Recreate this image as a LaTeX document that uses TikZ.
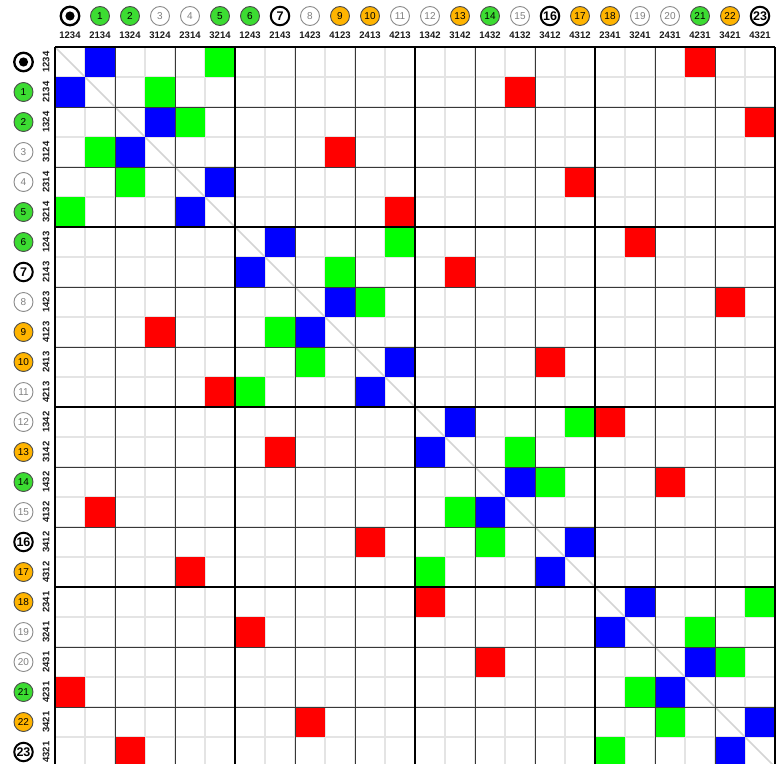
\documentclass[tikz,border=0pt]{standalone}
\usepackage{fontspec}
\setmainfont{Liberation Sans}
\definecolor{cblue}{RGB}{0,0,255}
\definecolor{cgreen}{RGB}{0,255,0}
\definecolor{cred}{RGB}{255,0,0}
\definecolor{trgreen}{RGB}{60,220,50}
\definecolor{orng}{RGB}{255,180,0}
\definecolor{lightgrid}{RGB}{228,228,228}
\definecolor{diagc}{RGB}{212,212,212}
\tikzset{
  circ/.style={circle, minimum size=19pt, inner sep=0pt, font=\fontsize{10}{10}\selectfont},
  ctr/.style={circ, draw=black!70, line width=0.9pt, fill=trgreen, text=black},
  cct/.style={circ, draw=black!45, line width=0.9pt, fill=white, text=black!50},
  ccf/.style={circ, draw=black!70, line width=0.9pt, fill=orng, text=black},
  cdt/.style={circ, draw=black, line width=2pt, fill=white, text=black, minimum size=18.5pt, font=\fontsize{12.5}{12.5}\selectfont\bfseries},
  cid/.style={circ, draw=black, line width=2.3pt, fill=white, minimum size=18.5pt},
  plab/.style={font=\fontsize{9.5}{9.5}\selectfont\bfseries, inner sep=0pt, text=black!90},
  lightline/.style={draw=lightgrid, line width=1.3pt},
  darkline/.style={draw=black!78, line width=0.9pt},
  thickline/.style={draw=black, line width=2.6pt},
  diagline/.style={draw=diagc, line width=1.6pt},
}
\begin{document}
\begin{tikzpicture}[x=1pt,y=-1pt]
\useasboundingbox (0,0) rectangle (778,763);
\clip (0,0) rectangle (778,763);
\fill[white] (0,0) rectangle (778,763);
% light grid
\foreach \k in {1,...,23} {
  \draw[lightline] ({55+30*\k},47) -- ++(0,720);
  \draw[lightline] (55,{47+30*\k}) -- ++(720,0);
}
% diagonal
\draw[diagline] (55,47) -- (775,767);
% coloured cells
\foreach \r/\b/\g/\d in {0/1/5/21,1/0/3/15,2/3/4/23,3/2/1/9,4/5/2/17,5/4/0/11,
  6/7/11/19,7/6/9/13,8/9/10/22,9/8/7/3,10/11/8/16,11/10/6/5,
  12/13/17/18,13/12/15/7,14/15/16/20,15/14/13/1,16/17/14/10,17/16/12/4,
  18/19/23/12,19/18/21/6,20/21/22/14,21/20/19/0,22/23/20/8,23/22/18/2} {
  \fill[cblue] ({55+30*\b},{47+30*\r}) rectangle ++(30,30);
  \fill[cgreen] ({55+30*\g},{47+30*\r}) rectangle ++(30,30);
  \fill[cred] ({55+30*\d},{47+30*\r}) rectangle ++(30,30);
}
% darker lines every two cells
\foreach \k in {2,4,8,10,14,16,20,22} {
  \draw[darkline] ({55+30*\k},47) -- ++(0,720);
  \draw[darkline] (55,{47+30*\k}) -- ++(720,0);
}
% thick block lines
\foreach \k in {0,6,12,18,24} {
  \draw[thickline] ({55+30*\k},47) -- ++(0,720);
  \draw[thickline] (55,{47+30*\k}) -- ++(720,0);
}
% headers
\node[cid] (h0) at (70,16) {};
\fill[black] (h0.center) circle (4.6pt);
\node[cid] (r0) at (23.5,62) {};
\fill[black] (r0.center) circle (4.6pt);
\foreach \i/\cl in {1/ctr,2/ctr,3/cct,4/cct,5/ctr,6/ctr,7/cdt,8/cct,9/ccf,10/ccf,11/cct,
  12/cct,13/ccf,14/ctr,15/cct,16/cdt,17/ccf,18/ccf,19/cct,20/cct,21/ctr,22/ccf,23/cdt} {
  \node[\cl] (h\i) at ({70+30*\i},16) {\i};
  \node[\cl] (r\i) at (23.5,{62+30*\i}) {\i};
}
\foreach \p [count=\i from 0] in {1234,2134,1324,3124,2314,3214,1243,2143,1423,4123,2413,4213,
  1342,3142,1432,4132,3412,4312,2341,3241,2431,4231,3421,4321} {
  \node[plab] (hl\i) at ({70+30*\i},35.5) {\p};
  \node[plab, rotate=90] (rl\i) at (46,{62+30*\i}) {\p};
}
\end{tikzpicture}
\end{document}
